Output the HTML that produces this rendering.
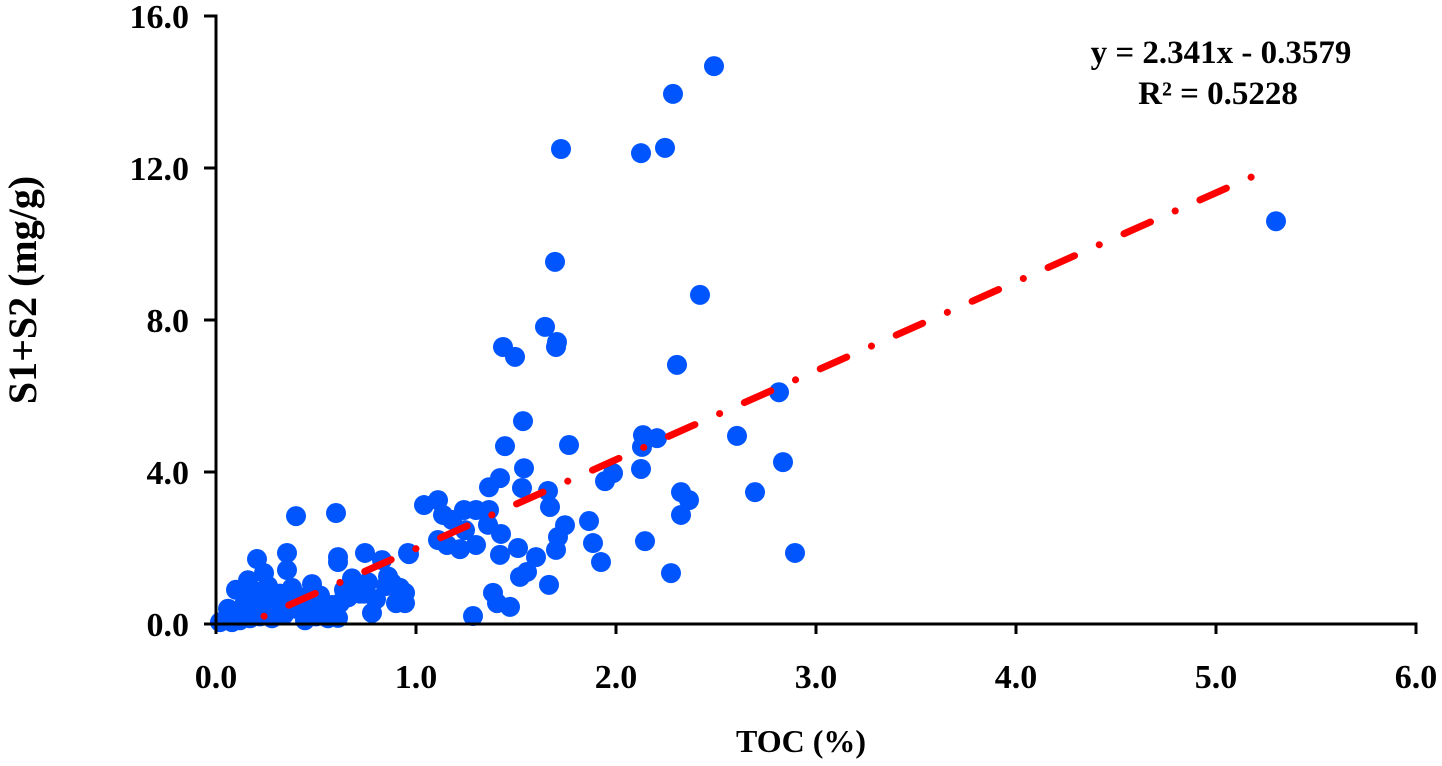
<!DOCTYPE html>
<html><head><meta charset="utf-8">
<style>
body{margin:0;background:#fff;}
svg text{font-family:"Liberation Serif",serif;font-weight:bold;fill:#000;}
</style></head>
<body>
<svg id="chart" width="1442" height="761" viewBox="0 0 1442 761" xmlns="http://www.w3.org/2000/svg">
<g id="points"></g>
<g id="trend"></g>
<g id="axes"></g>
<text x="1221" y="63" font-size="33" text-anchor="middle">y = 2.341x - 0.3579</text>
<text x="1218" y="104" font-size="33" text-anchor="middle">R² = 0.5228</text>
<text x="801" y="752" font-size="32" text-anchor="middle">TOC (%)</text>
<text transform="translate(36,290) rotate(-90)" font-size="40" text-anchor="middle">S1+S2 (mg/g)</text>
</svg>
<script>
const xTicks=[0,1,2,3,4,5,6];
const yTicks=[0,4,8,12,16];
const tocValues=[2.49,2.285,1.725,2.125,2.245,5.30,1.695,2.42,1.645,1.435,1.705,1.495,1.70,2.305,2.815,1.535,2.135,2.205,2.605,1.445,1.765,2.13,2.835,1.54,2.125,1.985,1.945,1.42,1.365,2.695,2.325,2.365,2.325,1.66,1.67,1.53,1.865,1.745,1.885,1.925,2.145,2.275,2.895,1.70,1.71,1.665,1.60,1.52,1.555,1.51,1.42,1.385,1.405,1.47,1.285,1.425,1.36,1.245,1.30,1.22,1.155,1.11,1.11,1.04,1.135,1.18,1.24,1.30,1.365,0.965,0.40,0.60,0.205,0.355,0.355,0.24,0.61,0.61,0.745,0.83,0.96,0.88,0.945,0.945,0.78,0.61,0.445,0.02,0.05,0.08,0.10,0.12,0.15,0.17,0.20,0.22,0.25,0.28,0.30,0.33,0.36,0.40,0.43,0.46,0.50,0.53,0.56,0.62,0.66,0.70,0.74,0.80,0.85,0.90,0.18,0.22,0.28,0.32,0.38,0.42,0.48,0.52,0.58,0.64,0.68,0.72,0.76,0.14,0.26,0.34,0.10,0.16,0.30,0.44,0.54,0.24,0.20,0.28,0.12,0.06,0.46,0.50,0.56,0.68,0.72,0.86,0.92];
const s1s2Values=[14.68,13.95,12.5,12.39,12.53,10.6,9.53,8.66,7.82,7.29,7.42,7.03,7.29,6.82,6.1,5.34,4.97,4.89,4.95,4.68,4.71,4.66,4.26,4.1,4.08,3.97,3.76,3.84,3.6,3.47,3.47,3.26,2.87,3.5,3.08,3.58,2.71,2.6,2.13,1.63,2.18,1.34,1.87,1.95,2.29,1.03,1.76,1.24,1.37,2.0,1.82,0.82,0.55,0.45,0.21,2.37,2.61,2.47,2.08,1.97,2.08,2.21,3.26,3.13,2.87,2.74,3.0,3.0,3.0,1.84,2.84,2.92,1.71,1.87,1.42,1.34,1.76,1.63,1.87,1.68,1.87,1.08,0.82,0.55,0.29,0.16,0.1,0.05,0.1,0.05,0.2,0.1,0.3,0.15,0.5,0.2,0.4,0.6,0.3,0.5,0.7,0.4,0.6,0.3,0.45,0.6,0.35,0.55,0.7,0.9,0.8,0.65,1.0,0.55,0.8,0.85,0.15,0.8,0.95,0.6,1.05,0.75,0.5,0.9,1.1,0.8,1.1,0.5,1.0,0.25,0.9,1.15,0.35,0.7,0.25,0.85,0.3,0.65,0.2,0.4,0.25,0.2,0.15,1.2,0.95,1.25,0.95,0.6];
const slope=2.341, intercept=-0.3579, trendStart=0.24, trendEnd=5.2;
const NS='http://www.w3.org/2000/svg';
const X0=216,XS=200,Y0=624,YS=38;
const sx=v=>X0+v*XS, sy=v=>Y0-v*YS;
const pts=document.getElementById('points');
tocValues.forEach((t,i)=>{
  const c=document.createElementNS(NS,'circle');
  c.setAttribute('cx',sx(t));c.setAttribute('cy',sy(s1s2Values[i]));c.setAttribute('r',10);c.setAttribute('fill','#0055ff');
  
  
  pts.appendChild(c);
});
const tl=document.createElementNS(NS,'line');
tl.setAttribute('x1',sx(trendStart));tl.setAttribute('y1',sy(slope*trendStart+intercept));
tl.setAttribute('x2',sx(trendEnd));tl.setAttribute('y2',sy(slope*trendEnd+intercept));
tl.setAttribute('stroke','#ff0000');tl.setAttribute('stroke-width','7');tl.setAttribute('stroke-linecap','round');
tl.setAttribute('stroke-dasharray','0.1 27 29 27');


document.getElementById('trend').appendChild(tl);
const ax=document.getElementById('axes');
function ln(x1,y1,x2,y2,name){const l=document.createElementNS(NS,'line');l.setAttribute('x1',x1);l.setAttribute('y1',y1);l.setAttribute('x2',x2);l.setAttribute('y2',y2);l.setAttribute('stroke','#000');l.setAttribute('stroke-width','3');


ax.appendChild(l);}
function tx(x,y,s,anchor,name){const t=document.createElementNS(NS,'text');t.setAttribute('x',x);t.setAttribute('y',y);t.setAttribute('font-size','34');t.setAttribute('text-anchor',anchor);t.textContent=s;


ax.appendChild(t);}
ln(X0,sy(16)-1.5,X0,Y0+1.5,'y-axis-line');
ln(X0-1.5,Y0,sx(6)+1.5,Y0,'x-axis-line');
xTicks.forEach(v=>{ln(sx(v),Y0,sx(v),Y0+10,'x-tick');tx(sx(v),Y0+64,v.toFixed(1),'middle','x-tick-label');});
yTicks.forEach(v=>{ln(X0-12,sy(v),X0,sy(v),'y-tick');tx(X0-27,sy(v)+12,v.toFixed(1),'end','y-tick-label');});
</script>
</body></html>
